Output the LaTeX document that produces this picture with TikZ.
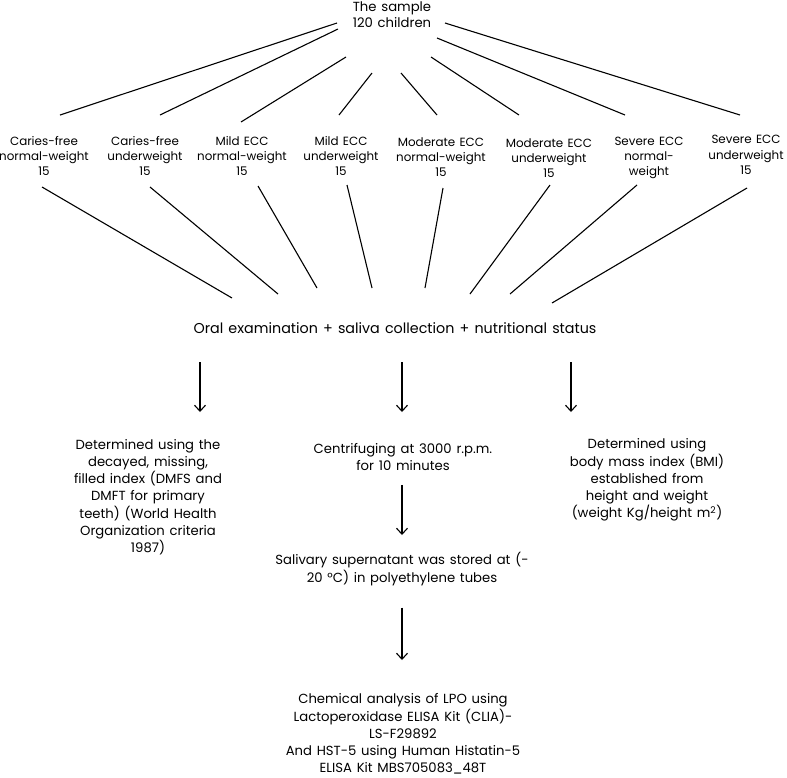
\documentclass[tikz,border=0pt]{standalone}
\usepackage{fontspec}
\setmainfont{Poppins}[WordSpace=1.35]
\usetikzlibrary{arrows.meta}
\tikzset{label/.style = {align=center, inner sep=0pt, font=\fontsize{11.9}{15.2}\selectfont},
         block/.style = {align=center, inner sep=0pt, font=\fontsize{13.2}{17.2}\selectfont},
         link/.style = {line width=1.1pt},
         flow/.style = {line width=1.1pt, -{Straight Barb[length=6pt,width=11pt,line width=1.1pt]}}}

\begin{document}
\begin{tikzpicture}[x=1pt, y=-1pt]
    \useasboundingbox (0,0) rectangle (787,777);
    % sample and the eight groups
    \node [label, font=\fontsize{13.2}{16}\selectfont] (sample) at (392,15) {The sample\\120 children};
    \node [label] (g1) at (44,156) {Caries-free\\normal-weight\\15};
    \node [label] (g2) at (145,156) {Caries-free\\underweight\\15};
    \node [label] (g3) at (242,156) {Mild ECC\\normal-weight\\15};
    \node [label] (g4) at (341,156) {Mild ECC\\underweight\\15};
    \node [label] (g5) at (441,157) {Moderate ECC\\normal-weight\\15};
    \node [label] (g6) at (549,158) {Moderate ECC\\underweight\\15};
    \node [label] (g7) at (649,158) {Severe ECC\\normal-\\weight};
    \node [label] (g8) at (746,155) {Severe ECC\\underweight\\15};
    \node [label, font=\fontsize{14.3}{17}\selectfont] (oral) at (395,328) {Oral examination + saliva collection + nutritional status};
    % the three measurements
    \node [block] (dmf) at (148,497) {Determined using the\\decayed, missing,\\filled index (DMFS and\\DMFT for primary\\teeth) (World Health\\Organization criteria\\1987)};
    \node [block] (spin) at (403,457) {Centrifuging at 3000 r.p.m.\\for 10 minutes};
    \node [block] (store) at (402,569) {Salivary supernatant was stored at (-\\20 °C) in polyethylene tubes};
    \node [block] (bmi) at (647,480) {Determined using\\body mass index (BMI)\\established from\\height and weight\\(weight Kg/height m\textsuperscript{2})};
    \node [block] (elisa) at (403,734) {Chemical analysis of LPO using\\Lactoperoxidase ELISA Kit (CLIA)-\\LS-F29892\\And HST-5 using Human Histatin-5\\ELISA Kit MBS705083\_48T};

    % line ends next to the nodes
    \foreach \i/\sx/\sy/\gx/\gy in {1/337/23/60/115, 2/338/29/160/115, 3/346/57/241/122, 4/372/73/339/115,
                                    5/401/73/437/115, 6/431/57/519/115, 7/437/38/625/115, 8/445/23/740/115}
        {\coordinate (s\i) at (\sx,\sy);
         \coordinate (g\i top) at (\gx,\gy);
         \draw [link] (s\i) -- (g\i top);}
    \foreach \i/\gx/\gy/\ox/\oy in {1/42/187/232/298, 2/150/187/278/294, 3/258/186/317/288, 4/347/185/372/288,
                                    5/443/188/425/288, 6/550/185/470/294, 7/637/185/510/294, 8/747/188/552/303}
        {\coordinate (g\i bot) at (\gx,\gy);
         \coordinate (o\i) at (\ox,\oy);
         \draw [link] (g\i bot) -- (o\i);}

    % arrows
    \coordinate (a1) at (200,362);
    \coordinate (a2) at (402,362);
    \coordinate (a3) at (571,362);
    \draw [flow] (a1) -- (a1 |- 0,412);
    \draw [flow] (a2) -- (a2 |- 0,412);
    \draw [flow] (a3) -- (a3 |- 0,412);
    \draw [flow] (spin.south -| a2) ++(0,14) coordinate (b1) -- (b1 |- 0,535);
    \draw [flow] (store.south -| a2) ++(0,22) coordinate (c1) -- (c1 |- 0,660);
  \end{tikzpicture}
\end{document}
